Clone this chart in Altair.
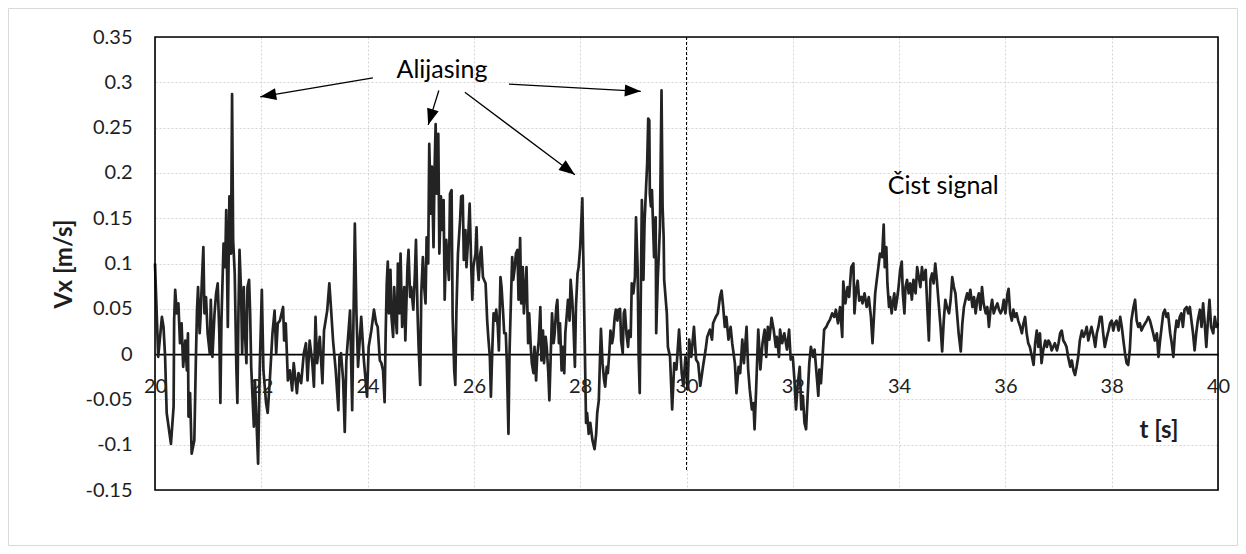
import math
import altair as alt
import pandas as pd

# ---------------- data ----------------
t_20_24 = [20.00, 20.06, 20.13, 20.16, 20.19, 20.22, 20.30, 20.35, 20.36, 20.38, 20.41, 20.44, 20.47, 20.50,
           20.53, 20.57, 20.60, 20.62, 20.63, 20.66, 20.69, 20.74, 20.77, 20.79, 20.81, 20.84, 20.86, 20.88,
           20.91, 20.93, 20.96, 20.99, 21.03, 21.05, 21.08, 21.12, 21.15, 21.18, 21.21, 21.23, 21.25, 21.29,
           21.32, 21.34, 21.37, 21.40, 21.43, 21.45, 21.47, 21.50, 21.53, 21.55, 21.57, 21.59, 21.62, 21.64,
           21.67, 21.69, 21.72, 21.74, 21.77, 21.79, 21.81, 21.86, 21.88, 21.94, 21.97, 22.01, 22.04, 22.09,
           22.12, 22.16, 22.21, 22.25, 22.28, 22.31, 22.35, 22.41, 22.43, 22.46, 22.50, 22.54, 22.58, 22.61,
           22.67, 22.70, 22.75, 22.80, 22.84, 22.87, 22.91, 22.96, 22.99, 23.02, 23.05, 23.10, 23.15, 23.18,
           23.24, 23.28, 23.31, 23.35, 23.40, 23.45, 23.47, 23.50, 23.54, 23.57, 23.60, 23.67, 23.71, 23.76,
           23.79, 23.82, 23.88, 23.93, 23.99]
v_20_24 = [0.100, -0.003, 0.041, 0.030, -0.003, -0.065, -0.099, -0.058, 0.037, 0.071, 0.045, 0.056, 0.012, 0.034,
           -0.014, 0.015, -0.018, 0.023, -0.069, -0.043, -0.110, -0.095, -0.003, 0.048, 0.074, 0.023, 0.045, 0.078,
           0.118, 0.045, 0.063, 0.023, 0.001, 0.060, -0.003, 0.045, 0.067, 0.078, 0.023, -0.054, 0.037, 0.122,
           0.096, 0.159, 0.030, 0.174, 0.111, 0.287, 0.126, 0.089, -0.014, -0.054, 0.045, 0.115, 0.067, 0.001,
           0.074, 0.026, -0.010, 0.074, 0.082, 0.045, -0.014, -0.080, -0.029, -0.121, -0.018, 0.071, -0.018, -0.054,
           -0.065, -0.029, 0.023, 0.048, 0.001, 0.034, 0.037, 0.052, 0.015, 0.034, -0.029, -0.018, -0.040, -0.010,
           -0.043, -0.021, -0.032, 0.001, 0.012, -0.029, 0.015, -0.010, -0.036, 0.041, -0.010, 0.019, -0.032, 0.026,
           0.048, 0.078, 0.052, 0.015, -0.018, -0.062, -0.003, 0.001, -0.029, -0.086, -0.007, 0.048, -0.062, 0.144,
           0.045, -0.014, 0.041, -0.007, -0.047]

t_24_28 = [24.02, 24.07, 24.12, 24.16, 24.19, 24.23, 24.26, 24.29, 24.32, 24.34, 24.36, 24.38, 24.40, 24.43,
           24.45, 24.48, 24.50, 24.52, 24.55, 24.57, 24.60, 24.62, 24.65, 24.69, 24.71, 24.75, 24.77, 24.80,
           24.82, 24.86, 24.89, 24.91, 24.94, 24.96, 24.99, 25.01, 25.04, 25.06, 25.09, 25.11, 25.14, 25.16,
           25.19, 25.21, 25.24, 25.26, 25.28, 25.30, 25.33, 25.35, 25.38, 25.40, 25.43, 25.45, 25.48, 25.50,
           25.53, 25.55, 25.58, 25.60, 25.63, 25.65, 25.67, 25.70, 25.74, 25.76, 25.79, 25.81, 25.84, 25.86,
           25.89, 25.92, 25.95, 25.97, 25.99, 26.03, 26.05, 26.07, 26.09, 26.12, 26.14, 26.17, 26.19, 26.22,
           26.25, 26.27, 26.30, 26.32, 26.35, 26.37, 26.40, 26.42, 26.45, 26.47, 26.50, 26.52, 26.55, 26.57,
           26.60, 26.62, 26.65, 26.67, 26.69, 26.72, 26.74, 26.77, 26.79, 26.82, 26.84, 26.87, 26.89, 26.92,
           26.94, 26.97, 26.99, 27.02, 27.04, 27.07, 27.09, 27.12, 27.14, 27.17, 27.19, 27.22, 27.25, 27.27,
           27.30, 27.32, 27.35, 27.37, 27.40, 27.42, 27.45, 27.47, 27.50, 27.52, 27.55, 27.57, 27.60, 27.62,
           27.65, 27.67, 27.70, 27.72, 27.75, 27.77, 27.80, 27.82, 27.85, 27.87, 27.90, 27.92, 27.95, 27.97,
           28.00]
v_24_28 = [0.008, 0.026, 0.049, 0.034, 0.030, -0.007, -0.010, -0.018, -0.053, 0.023, 0.078, 0.102, 0.045, 0.093,
           0.041, 0.019, 0.074, 0.049, 0.023, 0.100, 0.045, 0.111, 0.030, 0.074, 0.015, 0.096, 0.115, 0.063,
           0.074, 0.049, 0.089, 0.126, 0.045, 0.008, -0.034, 0.067, 0.107, 0.078, 0.056, 0.129, 0.100, 0.232,
           0.155, 0.207, 0.118, 0.203, 0.254, 0.177, 0.243, 0.111, 0.174, 0.137, 0.170, 0.060, 0.126, 0.107,
           0.082, 0.177, 0.181, 0.041, -0.018, -0.034, 0.045, 0.111, 0.148, 0.174, 0.175, 0.104, 0.137, 0.096,
           0.126, 0.166, 0.096, 0.060, 0.096, 0.111, 0.140, 0.096, 0.082, 0.111, 0.118, 0.085, 0.082, 0.078,
           0.037, 0.019, -0.003, -0.047, 0.012, 0.045, 0.037, 0.049, 0.030, 0.004, 0.085, 0.074, 0.045, 0.023,
           0.023, -0.010, -0.088, 0.001, 0.045, 0.107, 0.082, 0.096, 0.111, 0.115, 0.060, 0.128, 0.056, 0.096,
           0.045, 0.074, 0.096, 0.012, 0.045, 0.008, -0.010, -0.021, 0.008, -0.029, -0.003, 0.015, 0.052, -0.007,
           0.026, -0.010, 0.019, 0.008, -0.021, -0.051, 0.008, 0.045, 0.012, 0.023, 0.052, 0.060, 0.012, 0.034,
           -0.018, 0.008, -0.021, 0.023, 0.045, 0.060, 0.037, 0.082, 0.060, 0.037, -0.014, 0.052, 0.089, 0.096,
           0.118]

t_28_30 = [28.04, 28.07, 28.11, 28.13, 28.16, 28.19, 28.23, 28.27, 28.30, 28.32, 28.35, 28.37, 28.39, 28.42,
           28.45, 28.47, 28.50, 28.52, 28.55, 28.57, 28.60, 28.62, 28.65, 28.67, 28.70, 28.72, 28.75, 28.77,
           28.80, 28.82, 28.84, 28.87, 28.90, 28.92, 28.95, 28.97, 29.00, 29.03, 29.05, 29.08, 29.10, 29.12,
           29.14, 29.16, 29.18, 29.19, 29.21, 29.24, 29.26, 29.28, 29.30, 29.31, 29.33, 29.35, 29.37, 29.39,
           29.42, 29.43, 29.46, 29.48, 29.50, 29.53, 29.55, 29.57, 29.58, 29.60, 29.63, 29.65]
v_28_30 = [0.172, 0.067, -0.076, -0.065, -0.088, -0.076, -0.095, -0.105, -0.088, -0.065, -0.051, -0.010, 0.028, -0.010,
           -0.029, -0.036, -0.014, -0.021, 0.004, 0.026, 0.012, 0.019, 0.041, 0.049, 0.037, 0.049, 0.050, 0.015,
           0.001, 0.045, 0.049, 0.023, 0.008, 0.026, 0.019, 0.078, 0.067, 0.085, 0.151, 0.096, -0.003, -0.043,
           0.063, 0.170, 0.129, 0.082, 0.144, 0.185, 0.210, 0.260, 0.258, 0.177, 0.163, 0.181, 0.144, 0.107,
           0.151, 0.023, 0.085, 0.111, 0.140, 0.291, 0.163, 0.129, 0.082, 0.067, 0.045, 0.008]

t_30_34 = [29.69, 29.73, 29.77, 29.81, 29.86, 29.91, 29.94, 29.98, 30.02, 30.05, 30.09, 30.14, 30.18, 30.22,
           30.26, 30.31, 30.36, 30.39, 30.44, 30.48, 30.50, 30.55, 30.59, 30.63, 30.66, 30.69, 30.72, 30.75,
           30.79, 30.83, 30.86, 30.91, 30.94, 30.98, 31.01, 31.05, 31.08, 31.13, 31.16, 31.19, 31.23, 31.26,
           31.28, 31.31, 31.35, 31.39, 31.43, 31.47, 31.50, 31.53, 31.56, 31.60, 31.64, 31.68, 31.70, 31.74,
           31.76, 31.80, 31.84, 31.89, 31.93, 31.96, 32.00, 32.03, 32.06, 32.09, 32.13, 32.16, 32.19, 32.22,
           32.25, 32.28, 32.31, 32.34, 32.38, 32.41, 32.45, 32.48, 32.50, 32.53, 32.56, 32.59, 32.63, 32.66,
           32.70, 32.74, 32.78, 32.81, 32.85, 32.89, 32.93, 32.95, 32.99, 33.03, 33.06, 33.10, 33.14, 33.16,
           33.19, 33.22, 33.25, 33.29, 33.31, 33.35, 33.39, 33.43, 33.47, 33.50]
v_30_34 = [-0.003, -0.061, -0.010, -0.017, 0.027, -0.021, -0.035, -0.003, -0.039, 0.016, -0.003, 0.030, -0.006, -0.010,
           -0.035, -0.014, 0.005, 0.019, 0.027, 0.016, 0.034, 0.041, 0.045, 0.063, 0.070, 0.052, 0.030, 0.041,
           0.016, 0.030, 0.012, -0.010, -0.043, -0.014, -0.021, 0.016, -0.010, 0.030, -0.017, -0.039, -0.061, -0.054,
           -0.083, -0.039, 0.027, -0.017, 0.012, 0.027, -0.003, 0.030, 0.016, 0.040, 0.027, 0.008, 0.019, -0.003,
           0.027, 0.012, 0.023, 0.005, 0.027, -0.006, -0.003, -0.028, -0.061, -0.035, -0.014, -0.061, -0.046, -0.076,
           -0.083, -0.046, -0.010, 0.008, -0.003, 0.005, -0.024, -0.046, -0.017, -0.032, -0.003, 0.027, 0.030, 0.034,
           0.038, 0.045, 0.041, 0.049, 0.034, 0.052, 0.019, 0.080, 0.056, 0.074, 0.063, 0.096, 0.100, 0.045,
           0.070, 0.081, 0.059, 0.063, 0.056, 0.067, 0.052, 0.063, 0.041, 0.012]

t_34_36 = [33.55, 33.58, 33.61, 33.64, 33.68, 33.71, 33.73, 33.76, 33.78, 33.81, 33.83, 33.86, 33.88, 33.91,
           33.93, 33.96, 33.99, 34.02, 34.05, 34.07, 34.10, 34.12, 34.15, 34.18, 34.21, 34.24, 34.27, 34.31,
           34.34, 34.37, 34.40, 34.43, 34.46, 34.50, 34.53, 34.56, 34.59, 34.62, 34.65, 34.68, 34.71, 34.75,
           34.78, 34.81, 34.84, 34.87, 34.90, 34.94, 34.97, 35.00, 35.03, 35.06, 35.09, 35.12, 35.16, 35.19,
           35.22, 35.25, 35.28, 35.31, 35.34, 35.38, 35.41, 35.44, 35.47, 35.50, 35.53, 35.56, 35.59, 35.63,
           35.66, 35.69, 35.72, 35.75, 35.78, 35.82, 35.85, 35.88, 35.91, 35.94, 35.97, 36.00, 36.04]
v_34_36 = [0.067, 0.082, 0.096, 0.111, 0.107, 0.143, 0.096, 0.118, 0.078, 0.052, 0.063, 0.045, 0.056, 0.067,
           0.049, 0.060, 0.074, 0.093, 0.102, 0.067, 0.045, 0.074, 0.082, 0.067, 0.078, 0.060, 0.082, 0.067,
           0.096, 0.085, 0.074, 0.096, 0.082, 0.093, 0.052, 0.015, 0.082, 0.089, 0.078, 0.100, 0.082, 0.052,
           0.030, 0.003, 0.037, 0.060, 0.052, 0.045, 0.060, 0.085, 0.074, 0.067, 0.045, 0.023, 0.003, 0.034,
           0.052, 0.060, 0.067, 0.060, 0.071, 0.052, 0.063, 0.045, 0.060, 0.067, 0.049, 0.074, 0.056, 0.045,
           0.052, 0.030, 0.049, 0.060, 0.045, 0.052, 0.056, 0.049, 0.045, 0.049, 0.060, 0.045, 0.067]

t_36_40 = [36.06, 36.09, 36.12, 36.15, 36.18, 36.21, 36.24, 36.28, 36.31, 36.34, 36.37, 36.40, 36.43, 36.46,
           36.50, 36.53, 36.56, 36.59, 36.62, 36.65, 36.68, 36.71, 36.75, 36.78, 36.81, 36.84, 36.87, 36.90,
           36.93, 36.97, 37.00, 37.03, 37.06, 37.09, 37.12, 37.15, 37.18, 37.22, 37.25, 37.28, 37.31, 37.34,
           37.37, 37.40, 37.44, 37.47, 37.50, 37.53, 37.56, 37.59, 37.62, 37.66, 37.69, 37.72, 37.75, 37.78,
           37.81, 37.84, 37.87, 37.91, 37.94, 37.97, 38.00, 38.03, 38.06, 38.09, 38.13, 38.16, 38.19, 38.22,
           38.25, 38.28, 38.31, 38.34, 38.37, 38.41, 38.44, 38.47, 38.50, 38.53, 38.56, 38.59, 38.63, 38.66,
           38.69, 38.72, 38.75, 38.78, 38.81, 38.85, 38.88, 38.91, 38.94, 38.97, 39.00, 39.03, 39.06, 39.10,
           39.13, 39.16, 39.19, 39.22, 39.25, 39.28, 39.31, 39.34, 39.37, 39.41, 39.44, 39.47, 39.50, 39.53,
           39.56, 39.59, 39.62, 39.66, 39.69, 39.72, 39.75, 39.78, 39.81, 39.84, 39.87, 39.91, 39.94, 39.97,
           40.00]
v_36_40 = [0.072, 0.045, 0.037, 0.049, 0.041, 0.045, 0.037, 0.030, 0.023, 0.034, 0.041, 0.023, 0.012, 0.008,
           -0.003, -0.012, 0.012, 0.026, 0.008, 0.023, -0.010, 0.004, 0.015, 0.008, 0.015, 0.012, 0.004, 0.008,
           0.012, 0.004, 0.012, 0.023, 0.026, 0.015, 0.012, 0.008, -0.003, -0.014, -0.007, -0.018, -0.023, -0.014,
           -0.003, 0.015, 0.026, 0.019, 0.023, 0.030, 0.015, 0.023, 0.030, 0.019, 0.008, 0.023, 0.030, 0.041,
           0.041, 0.023, 0.008, 0.019, 0.026, 0.034, 0.037, 0.026, 0.034, 0.037, 0.026, 0.041, 0.030, 0.015,
           0.001, -0.010, -0.012, 0.004, 0.037, 0.052, 0.060, 0.037, 0.030, 0.034, 0.026, 0.030, 0.034, 0.037,
           0.041, 0.037, 0.030, 0.023, 0.015, 0.023, -0.003, 0.015, 0.030, 0.045, 0.049, 0.041, 0.045, 0.023,
           0.012, -0.003, 0.023, 0.037, 0.030, 0.041, 0.045, 0.030, 0.049, 0.052, 0.045, 0.052, 0.037, 0.023,
           0.004, 0.023, 0.037, 0.049, 0.030, 0.056, 0.034, 0.008, 0.037, 0.060, 0.030, 0.023, 0.041, 0.030,
           0.034]

x_ticks = [20, 22, 24, 26, 28, 30, 32, 34, 36, 38, 40]
y_ticks = [-0.15, -0.1, -0.05, 0, 0.05, 0.1, 0.15, 0.2, 0.25, 0.3, 0.35]

# annotation arrows (start -> tip), in data units
arrow_t0 = [24.10, 25.34, 25.83, 26.66]
arrow_v0 = [0.305, 0.291, 0.289, 0.298]
arrow_t1 = [21.98, 25.14, 27.90, 29.14]
arrow_v1 = [0.284, 0.253, 0.198, 0.290]

note_labels = ["Alijasing", "Čist signal"]
note_t = [25.40, 34.83]
note_v = [0.3135, 0.185]

xtitle_label = ["t [s]"]
xtitle_t = [38.89]
xtitle_v = [-0.085]

marker_t = [30]
marker_v_top = [0.35]
marker_v_bottom = [-0.13]

# ---------------- layout ----------------
W, H = 1063, 453
PAD_L, PAD_T, PAD_R, PAD_B = 147, 29, 20, 56
X_DOM = [20, 40]
Y_DOM = [-0.15, 0.35]
FONT = "Lato"
INK = "#1e1e1e"

T = t_20_24 + t_24_28 + t_28_30 + t_30_34 + t_34_36 + t_36_40
V = v_20_24 + v_24_28 + v_28_30 + v_30_34 + v_34_36 + v_36_40
signal = pd.DataFrame({"t": T, "v": V})

zero_offset = -H * (0 - Y_DOM[0]) / (Y_DOM[1] - Y_DOM[0])

x_scale = alt.Scale(domain=X_DOM, nice=False, zero=False)
y_scale = alt.Scale(domain=Y_DOM, nice=False, zero=False)

x_axis = alt.Axis(values=x_ticks, title=None, offset=zero_offset, domainColor="black", domainWidth=1.6,
                  ticks=False, tickSize=0, labelPadding=22, labelFont=FONT, labelFontSize=20,
                  labelColor=INK, labelFlush=False, labelOverlap=False, format="d",
                  grid=True, gridColor="#d4d4d4", gridDash=[2, 2], gridWidth=1)
y_axis = alt.Axis(values=y_ticks, title="Vx [m/s]", domain=False, ticks=False, tickSize=0,
                  labelPadding=23, labelFont=FONT, labelFontSize=20, labelColor=INK,
                  labelExpr="replace(format(datum.value, '.2~f'), '\u2212', '-')",
                  labelOverlap=False, labelFlush=False,
                  titleFont=FONT, titleFontSize=24, titleFontWeight="bold", titleColor=INK,
                  titlePadding=9,
                  grid=True, gridColor="#d4d4d4", gridDash=[2, 2], gridWidth=1)


def X(field):
    return alt.X(field, type="quantitative", scale=x_scale, axis=x_axis)


def Y(field):
    return alt.Y(field, type="quantitative", scale=y_scale, axis=y_axis)


frame = alt.Chart(alt.Data(values=[{"k": 1}])).mark_rect(
    fillOpacity=0, stroke="#d9d9d9", strokeWidth=1
).encode(
    x=alt.value(-PAD_L + 0.5), x2=alt.value(W + PAD_R - 0.5),
    y=alt.value(-PAD_T + 0.5), y2=alt.value(H + PAD_B - 0.5)
)

plot_border = alt.Chart(alt.Data(values=[{"k": 1}])).mark_rect(
    fillOpacity=0, stroke="black", strokeWidth=1.6
).encode(
    x=alt.value(0), x2=alt.value(W), y=alt.value(0), y2=alt.value(H)
)

line = alt.Chart(signal).mark_line(color="#232323", strokeWidth=2.7, strokeJoin="round").encode(
    x=X("t"), y=Y("v")
)

marker = alt.Chart(pd.DataFrame({"t": marker_t, "v": marker_v_top, "v2": marker_v_bottom})).mark_rule(
    color="black", strokeWidth=1, strokeDash=[3, 2]
).encode(x=X("t"), y=Y("v"), y2=alt.Y2("v2"))

px_per_t = W / (X_DOM[1] - X_DOM[0])
px_per_v = H / (Y_DOM[1] - Y_DOM[0])
angles = []
for a0, b0, a1, b1 in zip(arrow_t0, arrow_v0, arrow_t1, arrow_v1):
    dx = (a1 - a0) * px_per_t
    dy = -(b1 - b0) * px_per_v
    angles.append(math.degrees(math.atan2(dx, -dy)) % 360)

arrows_df = pd.DataFrame({"t": arrow_t0, "v": arrow_v0, "t2": arrow_t1, "v2": arrow_v1, "ang": angles})

arrow_lines = alt.Chart(arrows_df).mark_rule(color="black", strokeWidth=1.3).encode(
    x=X("t"), y=Y("v"), x2=alt.X2("t2"), y2=alt.Y2("v2")
)

heads_df = pd.DataFrame({"t": arrow_t1, "v": arrow_v1, "ang": angles})
arrow_heads = alt.Chart(heads_df).mark_point(
    shape="M0,0L-0.75,2L0.75,2Z", filled=True, size=256, color="black", opacity=1, strokeWidth=0
).encode(x=X("t"), y=Y("v"), angle=alt.Angle("ang:Q", scale=None))

notes = alt.Chart(pd.DataFrame({"t": note_t, "v": note_v, "label": note_labels})).mark_text(
    font=FONT, fontSize=25, color="black", align="center", baseline="middle"
).encode(x=X("t"), y=Y("v"), text="label:N")

xtitle = alt.Chart(pd.DataFrame({"t": xtitle_t, "v": xtitle_v, "label": xtitle_label})).mark_text(
    font=FONT, fontSize=24, fontWeight="bold", color=INK, align="center", baseline="middle"
).encode(x=X("t"), y=Y("v"), text="label:N")

chart = alt.layer(frame, line, marker, arrow_lines, arrow_heads, notes, xtitle, plot_border).properties(
    width=W, height=H,
    padding={"left": PAD_L, "top": PAD_T, "right": PAD_R, "bottom": PAD_B},
    autosize=alt.AutoSizeParams(type="none"),
    background="white",
).configure_view(stroke="black", strokeWidth=1.5).configure(font=FONT)

chart.save("out.html", embed_options={"renderer": "svg", "actions": False})
